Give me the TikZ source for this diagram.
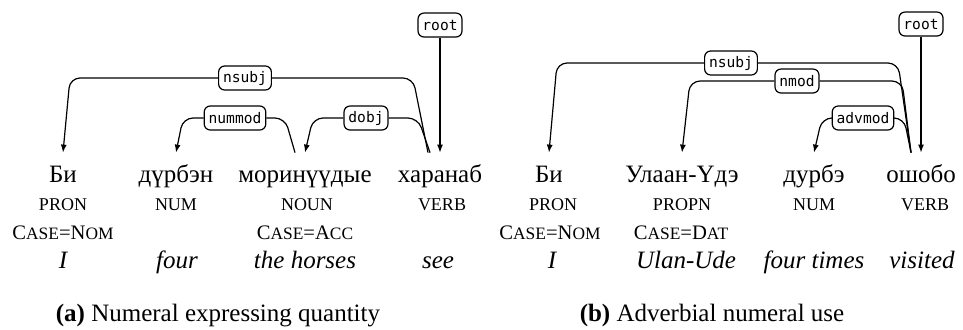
\documentclass[tikz,border=0pt]{standalone}
\usepackage{fontspec}
\setmainfont{Liberation Serif}
\newfontfamily\depfont{DejaVu Sans Mono}
\usetikzlibrary{arrows.meta,calc}

\newcommand\wordsize{\fontsize{12.5}{15}\selectfont}
\newcommand\tagsc[1]{{\fontsize{8.7}{10}\selectfont #1}}

\begin{document}
\begin{tikzpicture}[x=0.5pt,y=-0.5pt,
  word/.style={font=\wordsize,anchor=base,text height=9pt,text depth=3pt,inner xsep=1pt,inner ysep=5.5pt},
  postag/.style={font=\fontsize{9}{10}\selectfont,anchor=base,inner sep=1pt},
  feat/.style={font=\fontsize{10.3}{12}\selectfont,anchor=base,inner sep=1pt},
  gloss/.style={font=\wordsize\itshape,anchor=base,inner sep=1pt},
  subcap/.style={font=\wordsize,anchor=base,inner sep=1pt},
  deplabel/.style={draw,rounded corners=3pt,fill=white,line width=0.6pt,
    font=\depfont\fontsize{7.3}{8}\selectfont,inner xsep=2.2pt,inner ysep=0pt,minimum height=12pt},
  deparc/.style={draw,line width=0.6pt,rounded corners=5pt,-{Latex[length=4pt,width=3pt]}}]
\useasboundingbox (0,0) rectangle (963,329);

%% (a) numeral expressing quantity
% Words
\node[word] (bi) at (63,182) {Би};
\node[word] (durben) at (176,182) {дүрбэн};
\node[word] (morin) at (305,182) {моринүүдые};
\node[word] (haranab) at (440,182) {харанаб};
% Tags, features, glosses
\node[postag] (biPos) at (63,210) {PRON};
\node[postag] (durbenPos) at (176,210) {NUM};
\node[postag] (morinPos) at (307,210) {NOUN};
\node[postag] (haranabPos) at (442,210) {VERB};
\node[feat] (biCase) at (63,239) {C\tagsc{ASE}=N\tagsc{OM}};
\node[feat] (morinCase) at (305,239) {C\tagsc{ASE}=A\tagsc{CC}};
\node[gloss] (biGloss) at (63,268) {I};
\node[gloss] (durbenGloss) at (177,268) {four};
\node[gloss] (morinGloss) at (305,268) {the horses};
\node[gloss] (haranabGloss) at (438,268) {see};
% Arc labels
\node[deplabel] (rootA) at (440,25) {root};
\node[deplabel] (nsubjA) at (245,78) {nsubj};
\node[deplabel] (nummod) at (235,118) {nummod};
\node[deplabel] (dobj) at (366,118) {dobj};
% Arcs
\draw[deparc] (rootA) -- (rootA |- haranab.north);
\draw[deparc] ($(haranab.north)+(-12,0)$) -- ($(haranab.north |- nsubjA)+(-27,0)$) -- (nsubjA)
  -- ($(bi.north |- nsubjA)+(7,0)$) -- (bi.north);
\draw[deparc] ($(morin.north)+(-10,0)$) -- ($(morin.north |- nummod)+(-20,0)$) -- (nummod)
  -- ($(durben.north |- nummod)+(7,0)$) -- (durben.north);
\draw[deparc] ($(haranab.north)+(-10,0)$) -- ($(haranab.north |- dobj)+(-22,0)$) -- (dobj)
  -- ($(morin.north |- dobj)+(8,0)$) -- (morin.north);

%% (b) adverbial numeral use
% Words
\node[word] (biB) at (549,182) {Би};
\node[word] (ulaan) at (682,182) {Улаан-Үдэ};
\node[word] (durbe) at (814,182) {дурбэ};
\node[word] (oshobo) at (921,182) {ошобо};
% Tags, features, glosses
\node[postag] (biBPos) at (553,210) {PRON};
\node[postag] (ulaanPos) at (682,210) {PROPN};
\node[postag] (durbePos) at (814,210) {NUM};
\node[postag] (oshoboPos) at (925,210) {VERB};
\node[feat] (biBCase) at (550,239) {C\tagsc{ASE}=N\tagsc{OM}};
\node[feat] (ulaanCase) at (681,239) {C\tagsc{ASE}=D\tagsc{AT}};
\node[gloss] (biBGloss) at (552,268) {I};
\node[gloss] (ulaanGloss) at (686,268) {Ulan-Ude};
\node[gloss] (durbeGloss) at (814,268) {four times};
\node[gloss] (oshoboGloss) at (922,268) {visited};
% Arc labels
\node[deplabel] (rootB) at (921,24) {root};
\node[deplabel] (nsubjB) at (731,63) {nsubj};
\node[deplabel] (nmod) at (797,81) {nmod};
\node[deplabel] (advmod) at (863,118) {advmod};
% Arcs
\draw[deparc] (rootB) -- (rootB |- oshobo.north);
\draw[deparc] ($(oshobo.north)+(-10,0)$) -- ($(oshobo.north |- nsubjB)+(-23,0)$) -- (nsubjB)
  -- ($(biB.north |- nsubjB)+(8,0)$) -- (biB.north);
\draw[deparc] ($(oshobo.north)+(-10,0)$) -- ($(oshobo.north |- nmod)+(-19,0)$) -- (nmod)
  -- ($(ulaan.north |- nmod)+(8,0)$) -- (ulaan.north);
\draw[deparc] ($(oshobo.north)+(-10,0)$) -- ($(oshobo.north |- advmod)+(-17,0)$) -- (advmod)
  -- ($(durbe.north |- advmod)+(8,0)$) -- (durbe.north);

% Sub-captions
\node[subcap] (capA) at (218,321) {\textbf{(a)} Numeral expressing quantity};
\node[subcap] (capB) at (712,321) {\textbf{(b)} Adverbial numeral use};
\end{tikzpicture}
\end{document}
